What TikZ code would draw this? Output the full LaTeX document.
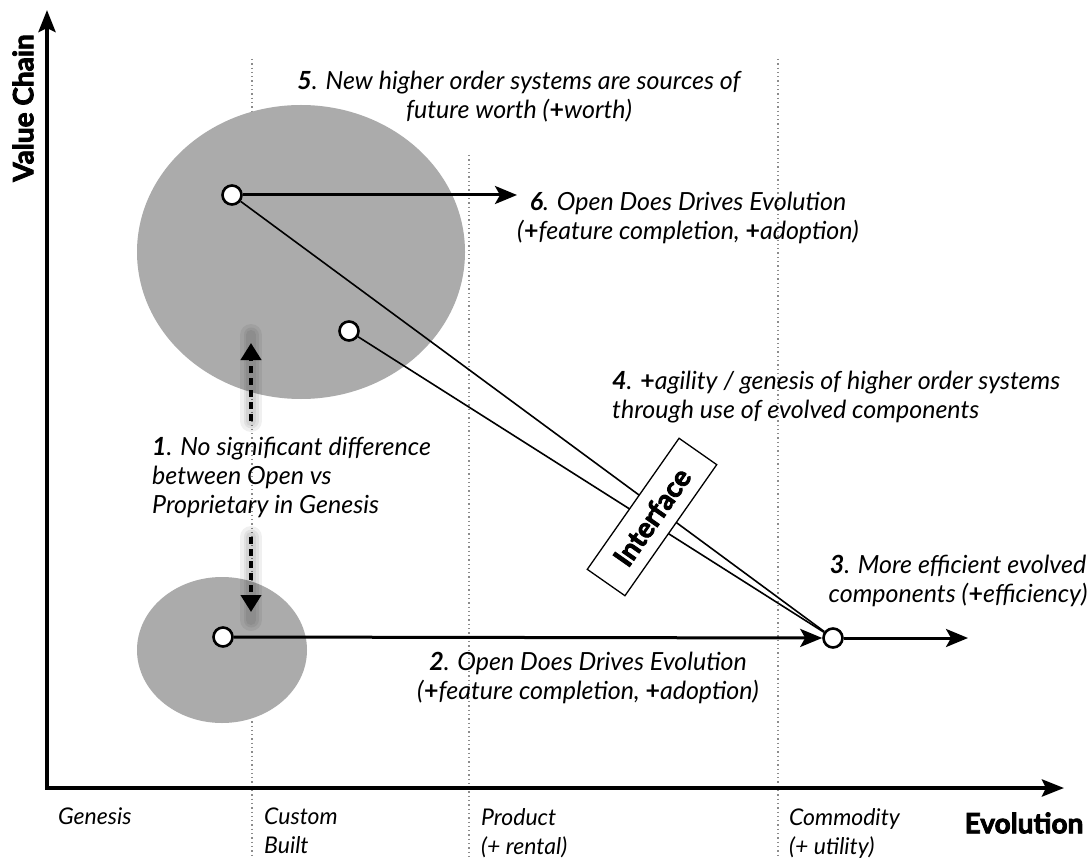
\documentclass[tikz,border=0pt]{standalone}
\usepackage{fontspec}
\setmainfont{Lato}
\newfontfamily\heavyfont{Lato}[BoldFeatures={FakeBold=3}]
\usetikzlibrary{arrows.meta}
\definecolor{blobgray}{HTML}{ABABAB}
\definecolor{gridgray}{HTML}{8C8C8C}
\newcommand{\pl}{\textup{\textbf{+}}}
\begin{document}
\begin{tikzpicture}[x=1pt,y=-1pt,
  axis/.style={line width=4pt,-{Stealth[length=22pt,width=17pt,inset=4pt]}},
  flow/.style={line width=3pt,-{Stealth[length=22pt,width=18pt,inset=5pt]}},
  link/.style={line width=1.6pt},
  stage/.style={gridgray,line width=1.3pt,dash pattern=on 1.3pt off 3pt},
  blob/.style={fill=blobgray,draw=none},
  dot/.style={circle,draw=black,line width=2.6pt,fill=white,minimum size=19pt,inner sep=0pt},
  hint/.style={line width=4pt,dash pattern=on 7pt off 5pt,-{Triangle[length=17pt,width=20pt]}},
  glow/.style={line width=#1,black,opacity=0.06,line cap=round},
  note/.style={font=\itshape\fontsize{25}{29}\selectfont,inner sep=0pt},
  tick/.style={font=\itshape\fontsize{23}{29}\selectfont,inner sep=0pt,align=left,anchor=north west},
  title/.style={font=\heavyfont\bfseries\fontsize{28}{30}\selectfont,inner sep=0pt}]
\useasboundingbox (0,0) rectangle (1091,858);
\fill[white] (0,0) rectangle (1091,858);

% evolution stage separators
\draw[stage] (252,59) -- (252,856);
\draw[stage] (469,155) -- (469,856);
\draw[stage] (778,59) -- (778,856);

% scopes of genesis activity
\fill[blob] (301,252) ellipse [x radius=164pt, y radius=147pt];
\fill[blob] (222,650) ellipse [x radius=85pt, y radius=73pt];

% axes
\coordinate (origin) at (47,788);
\coordinate (ytip) at (47,10);
\coordinate (xtip) at (1064,788);
\draw[axis] (origin) -- (ytip);
\draw[axis] ([xshift=-2pt]origin) -- (xtip);
\node[title,rotate=90] (yl) at (23,108) {Value Chain};
\node[title] (xl) at (1024,823) {Evolution};

% stage names
\node[tick] (s1) at (58,808) {Genesis};
\node[tick] (s2) at (264,808) {Custom\\Built};
\node[tick] (s3) at (481,808) {Product\\(+ rental)};
\node[tick] (s4) at (789,808) {Commodity\\(+ utility)};

% components
\node[dot] (a) at (232,195) {};
\node[dot] (b) at (349,331) {};
\node[dot] (c) at (223,637) {};
\node[dot] (d) at (833,638) {};
\coordinate (aend) at (517,195);
\coordinate (dend) at (968,638);

% evolution of components
\draw[link] (a) -- (d);
\draw[link] (b) -- (d);
\draw[flow] (a) -- (aend);
\draw[flow] (c) -- (d);
\draw[flow] (d) -- (dend);

\node[draw=black,line width=1.3pt,fill=white,rotate=55,minimum width=160pt,minimum height=46pt,
      font=\heavyfont\bfseries\fontsize{28}{30}\selectfont] (iface) at (652,517) {Interface};

% comparison hints between genesis areas
\coordinate (up0) at (251,421);
\coordinate (up1) at (251,343);
\coordinate (dn0) at (251,537);
\coordinate (dn1) at (251,612);
\foreach \w in {22pt,15pt,10pt}{
  \draw[glow=\w] (up0) -- ([yshift=8pt]up1);
  \draw[glow=\w] (dn0) -- ([yshift=-8pt]dn1);
}
\draw[hint] (up0) -- (up1);
\draw[hint] (dn0) -- (dn1);

% annotations
\node[note,align=center] (t5) at (519,97) {\textbf{5}. New higher order systems are sources of\\future worth (\pl worth)};
\node[note,align=center] (t6) at (688,218) {\textbf{6}. Open Does Drives Evolution\\(\pl feature completion, \pl adoption)};
\node[note,align=left,anchor=west] (t4) at (612,397) {\textbf{4}. \pl agility / genesis of higher order systems\\through use of evolved components};
\node[note,align=left,anchor=west] (t1) at (152,477) {\textbf{1}. No significant difference\\between Open vs\\Proprietary in Genesis};
\node[note,align=center] (t3) at (958,581) {\textbf{3}. More efficient evolved\\components (\pl efficiency)};
\node[note,align=center] (t2) at (588,678) {\textbf{2}. Open Does Drives Evolution\\(\pl feature completion, \pl adoption)};
\end{tikzpicture}
\end{document}
